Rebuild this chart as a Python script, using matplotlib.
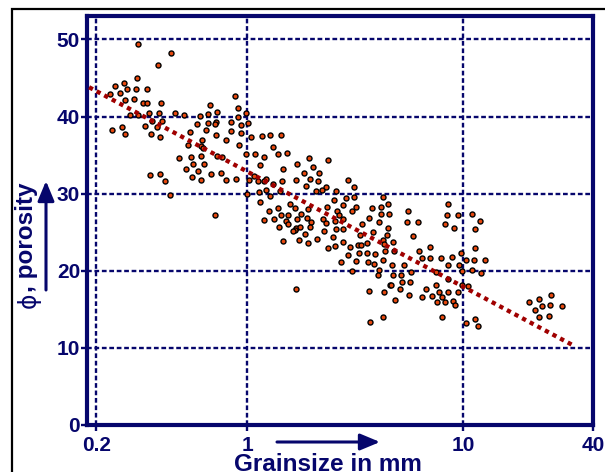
import matplotlib
matplotlib.use('Agg')
import matplotlib.pyplot as plt
from matplotlib.patches import Rectangle
from matplotlib.ticker import NullLocator

# grain size (mm) and porosity (%)
grain_mm = [
    0.313, 0.445, 0.386, 0.308, 0.270, 0.243, 0.278, 0.304, 0.343, 0.258,
    0.231, 0.300, 0.272, 0.330, 0.342, 0.398, 0.285, 0.311, 0.351, 0.390,
    0.464, 0.509, 0.361, 0.403, 0.381, 0.336, 0.263, 0.237, 0.272, 0.357,
    0.394, 0.483, 0.356, 0.396, 0.416, 0.439,
    0.874, 0.674, 0.909, 0.602, 0.656, 0.722, 0.99, 0.903, 0.585, 0.660,
    0.716, 0.711, 0.838, 0.935, 1.01, 0.644, 0.545, 0.838, 0.932, 0.716,
    1.04, 0.797, 0.615, 0.530, 0.612, 0.624, 0.915, 0.99, 0.726, 0.766,
    0.547, 0.609, 0.628, 0.561, 0.522, 0.593, 0.681, 0.758, 0.555, 0.612,
    0.799, 0.884, 1.015, 1.08, 0.708, 1.0,
    1.17, 1.27, 1.44, 1.32, 1.09, 1.20, 1.39, 1.53, 1.94, 1.70,
    1.14, 1.46, 2.02, 1.84, 2.14, 1.12, 1.22, 1.20, 1.32, 1.45,
    1.68, 1.96, 2.12, 1.88, 2.08, 1.13, 1.22, 1.28, 1.42, 1.14,
    1.58, 1.66, 1.39, 1.26, 1.92, 1.44, 1.55, 1.77, 1.33, 1.70,
    1.90, 1.19, 1.97, 1.52, 1.55, 1.40, 1.96, 1.69, 1.75, 1.66,
    1.63, 1.85, 2.11, 1.47, 1.73, 1.91, 1.68,
    2.36, 2.31, 2.93, 3.14, 2.22, 2.59, 2.86, 3.11, 2.53, 4.24,
    4.51, 2.77, 3.19, 3.07, 3.78, 4.15, 2.35, 2.61, 2.65, 4.15,
    4.54, 2.25, 2.31, 2.54, 2.79, 3.67, 4.06, 3.42, 4.48, 2.26,
    2.57, 2.78, 3.83, 3.34, 4.45, 2.49, 4.25, 2.77, 3.26, 3.36,
    3.59, 4.31, 2.38, 2.54, 2.99, 3.28, 3.57, 3.89, 4.37, 2.93,
    3.20, 3.61, 3.86, 4.26, 2.71, 3.05, 4.06, 4.03, 4.58, 3.67,
    4.29, 4.24, 3.71,
    5.56, 8.50, 8.43, 9.45, 5.51, 6.19, 8.26, 9.06, 5.89, 7.06,
    4.76, 4.78, 6.22, 7.01, 6.42, 7.88, 8.93, 9.83, 10.3, 4.71,
    5.31, 9.58, 8.56, 7.53, 5.71, 5.16, 4.73, 8.56, 9.86, 9.89,
    10.5, 4.63, 5.20, 5.68, 7.53, 6.77, 5.09, 7.74, 8.52, 9.52,
    5.62, 6.46, 7.18, 8.03, 4.84, 8.96, 7.58, 8.29, 9.18, 10.3,
    7.97,
    11.0, 12.0, 11.4, 11.3, 11.2, 12.6, 11.0, 12.1, 11.3, 11.7,
    25.6, 22.4, 20.2, 25.3, 23.2, 28.6, 21.5, 24.9, 22.6,
]
porosity = [
    49.4, 48.3, 46.7, 45.0, 44.4, 44.0, 43.6, 43.6, 43.6, 43.0,
    42.9, 42.3, 42.1, 41.8, 41.8, 41.7, 40.2, 40.2, 40.4, 40.5,
    40.4, 40.2, 39.4, 39.4, 38.6, 38.8, 38.7, 38.2, 37.7, 37.7,
    37.4, 34.6, 32.4, 32.6, 31.7, 29.8,
    42.7, 41.5, 41.1, 40.1, 40.3, 40.6, 40.4, 39.9, 39.0, 39.2,
    39.3, 39.0, 39.3, 38.9, 39.1, 38.2, 38.0, 38.1, 37.8, 37.6,
    37.4, 37.0, 36.9, 36.3, 36.2, 35.9, 36.3, 35.1, 34.9, 34.7,
    34.8, 34.9, 33.8, 33.8, 33.2, 33.0, 32.5, 32.7, 32.1, 31.8,
    31.8, 31.9, 31.8, 32.3, 27.2, 30.0,
    37.5, 37.6, 37.6, 36.0, 35.2, 34.8, 35.1, 35.3, 34.6, 33.8,
    33.7, 33.2, 33.4, 32.7, 32.7, 31.6, 31.9, 31.7, 31.2, 31.6,
    31.8, 31.9, 31.6, 31.0, 30.4, 30.2, 30.5, 29.7, 30.4, 28.9,
    28.7, 28.1, 28.1, 27.7, 28.0, 27.2, 27.2, 27.3, 26.7, 26.7,
    26.8, 26.6, 26.3, 26.5, 26.0, 25.7, 25.7, 25.6, 25.7, 25.3,
    25.1, 24.8, 24.1, 23.9, 24.0, 23.6, 17.6,
    34.4, 30.8, 31.8, 30.9, 30.5, 30.3, 29.5, 29.6, 29.2, 29.6,
    28.7, 28.5, 28.3, 27.8, 28.1, 28.3, 28.3, 27.7, 27.2, 27.3,
    27.3, 26.7, 26.2, 26.4, 26.7, 26.9, 26.3, 26.1, 25.6, 25.1,
    25.4, 25.4, 25.0, 24.6, 24.7, 24.4, 24.0, 23.7, 23.4, 23.4,
    23.6, 23.5, 23.0, 23.2, 23.1, 22.3, 22.3, 22.2, 22.5, 22.0,
    21.3, 21.2, 20.9, 21.4, 21.1, 20.0, 20.1, 19.5, 18.2, 17.4,
    17.3, 14.0, 13.4,
    27.8, 28.6, 27.2, 27.2, 26.3, 26.3, 26.0, 25.5, 24.5, 23.1,
    23.7, 22.5, 22.5, 21.6, 21.6, 21.6, 21.8, 22.3, 21.4, 20.8,
    20.8, 20.8, 20.8, 19.9, 19.9, 19.5, 19.4, 18.9, 20.0, 18.2,
    18.0, 18.2, 18.6, 18.6, 18.2, 17.7, 17.6, 17.3, 17.3, 17.3,
    16.9, 16.6, 16.7, 16.6, 16.2, 16.1, 15.9, 15.9, 15.5, 13.2,
    14.0,
    27.4, 26.5, 25.4, 22.9, 21.4, 21.4, 20.1, 19.7, 13.7, 12.8,
    16.9, 16.3, 15.9, 15.5, 15.4, 15.4, 14.9, 14.1, 14.0,
]

# trend line end points
trend_mm = [0.185, 33.0]
trend_por = [43.8, 10.2]

xticks = [0.2, 1, 10, 40]
xtick_labels = ['0.2', '1', '10', '40']
yticks = [0, 10, 20, 30, 40, 50]

navy = '#06066c'
plt.rcParams['font.family'] = ['Liberation Sans', 'DejaVu Sans']

fig = plt.figure(figsize=(6.05, 4.72), dpi=100)
W, H = 605.0, 472.0
ax = fig.add_axes([87 / W, 1 - 425 / H, (593 - 87) / W, (425 - 15.5) / H])
ax.set_xscale('log')
ax.set_xlim(0.181, 40)
ax.set_ylim(0, 53.1)

ax.scatter(grain_mm, porosity, s=13, c='#e8480e', edgecolors='black',
           linewidths=1.0, zorder=3)
ax.plot(trend_mm, trend_por, color='#a00000', lw=3.1, ls=(0, (1, 1)),
        dash_capstyle='butt', zorder=4)

ax.set_xticks(xticks)
ax.set_xticklabels(xtick_labels)
ax.xaxis.set_minor_locator(NullLocator())
ax.set_yticks(yticks)
ax.grid(True, color=navy, lw=1.7, ls=(0, (2.0, 1.15)), zorder=1)
ax.set_axisbelow(True)

for s in ax.spines.values():
    s.set_color(navy)
    s.set_linewidth(3)
ax.tick_params(colors=navy, width=1.7, length=4, labelsize=15)
ax.tick_params(axis='x', pad=4)
ax.tick_params(axis='y', pad=1)
for lab in ax.get_xticklabels() + ax.get_yticklabels():
    lab.set_fontweight('bold')

# axis labels with arrows
fig.text(328 / W, 1 - 471 / H, 'Grainsize in mm', ha='center', va='baseline',
         fontsize=17.5, fontweight='bold', color=navy)
fig.text(27 / W, 1 - 292 / H, ', porosity', rotation=90, ha='center', va='bottom',
         fontsize=17.5, fontweight='bold', color=navy)
fig.text(29 / W, 1 - 293 / H, '\u03d5', rotation=90, ha='center', va='top',
         fontsize=17, color=navy, family=['DejaVu Sans'])

arrow = dict(arrowstyle='-|>,head_length=0.6,head_width=0.25', mutation_scale=20,
             lw=2.2, color=navy, shrinkA=0, shrinkB=0)
ax.annotate('', xy=(380, H - 442), xytext=(277, H - 442),
            xycoords='figure pixels', textcoords='figure pixels', arrowprops=arrow)
ax.annotate('', xy=(46, H - 181), xytext=(46, H - 290),
            xycoords='figure pixels', textcoords='figure pixels', arrowprops=arrow)

# outer black frame
fig.add_artist(Rectangle((12 / W, -0.05), 1.2, 1 - 9 / H + 0.05, transform=fig.transFigure,
                         fill=False, edgecolor='black', lw=1.6))

fig.savefig('out.png', dpi=100)
